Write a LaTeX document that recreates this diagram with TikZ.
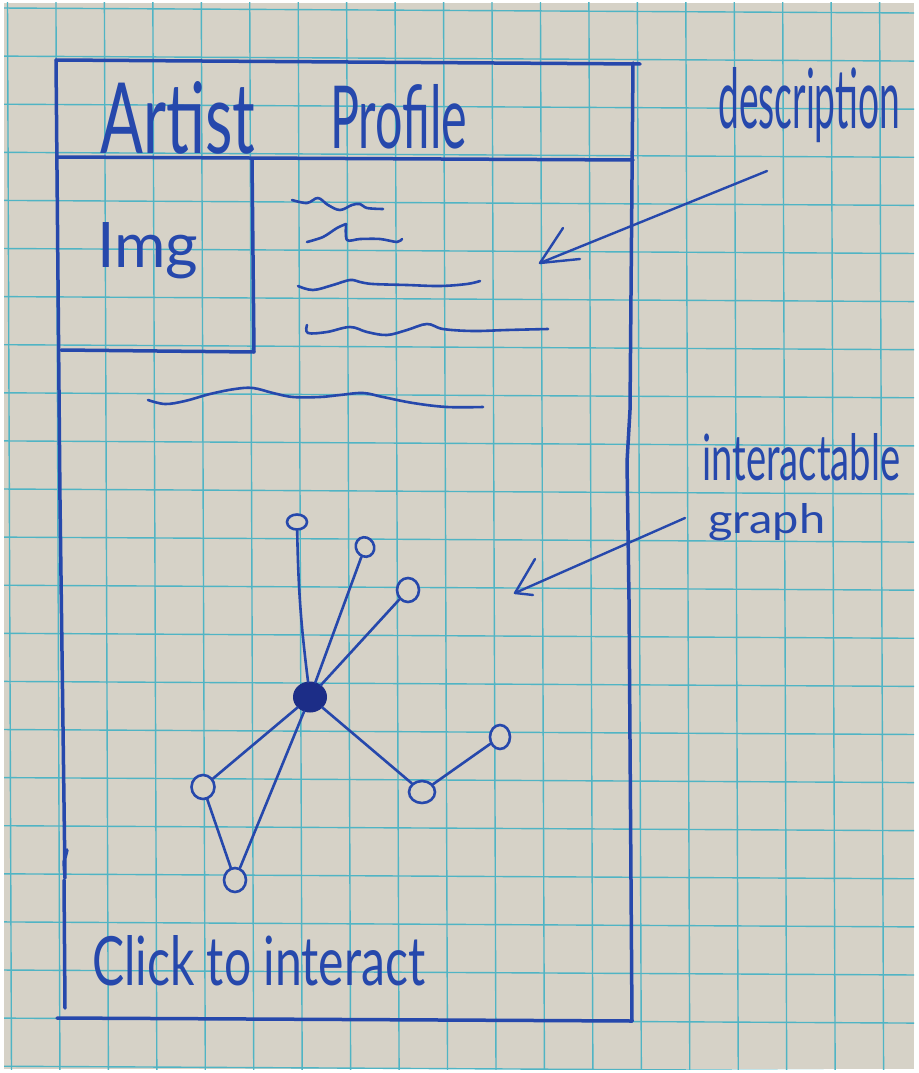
\documentclass[tikz,border=0pt]{standalone}
\usepackage{fontspec}
\usepackage{graphicx}
\newfontfamily\handfont{Lato}
\usetikzlibrary{shapes.geometric}
\definecolor{paper}{RGB}{214,210,199}
\definecolor{gridc}{RGB}{80,180,196}
\definecolor{pen}{RGB}{38,72,172}
\definecolor{hubc}{RGB}{28,45,135}
\begin{document}
\begin{tikzpicture}[x=1pt,y=-1pt,
  frame/.style={draw=pen, line width=3.5pt, line cap=round, line join=round},
  squig/.style={draw=pen, line width=2.6pt, line cap=round, line join=round},
  pointer/.style={draw=pen, line width=2.4pt, line cap=round, line join=round},
  hand/.style={text=pen, font=\handfont, inner sep=0pt, anchor=base west},
  leaf/.style={ellipse, draw=pen, line width=2.6pt, fill=paper, inner sep=0pt},
  hub/.style={ellipse, draw=hubc, fill=hubc, line width=1pt, minimum width=33pt, minimum height=30pt, inner sep=0pt},
  gedge/.style={draw=pen, line width=2.6pt, line cap=round},
  gridline/.style={draw=gridc, line width=1.4pt}]
\useasboundingbox (0,0) rectangle (918,1073);
\fill[white] (0,0) rectangle (918,1073);
\fill[paper] (4,3) rectangle (914,1069);
\begin{scope}
\clip (4,3) rectangle (914,1069);
\foreach \k in {0,...,19} \draw[gridline] (7.5+48.45*\k, 0) -- (11.5+48.45*\k, 1073);
\foreach \k in {0,...,22} \draw[gridline] (0, 8+48.1*\k) -- (918, 13+48.1*\k);
\end{scope}

% page frame
\draw[frame] (56,60) -- (640,64);
\draw[frame] (633,63) -- (630,410) -- (627,462) -- (629,600) -- (632,1021);
\draw[frame] (632,1021) -- (57,1018);
\draw[frame] (56,60) -- (60,500) -- (65,878) -- (64,862) -- (67,850);
\draw[frame] (64,880) -- (65,1008);
% header and image box
\draw[frame] (58,157) -- (633,160);
\draw[frame] (252,159) -- (254,352) -- (61,350);

% texts
\node[hand] (tArtist) at (100,153) {\resizebox{155pt}{72pt}{Artist}};
\node[hand] (tProfile) at (330,148) {\resizebox{137pt}{64pt}{Profile}};
\node[hand] (tImg) at (97,267) {\resizebox{101pt}{45pt}{Img}};
\node[hand] (tDesc) at (718,128) {\resizebox{182pt}{61pt}{description}};
\node[hand] (tInter) at (702,480) {\resizebox{198pt}{47pt}{interactable}};
\node[hand] (tGraph) at (708,533) {\resizebox{117pt}{30pt}{graph}};
\node[hand] (tClick) at (92,985) {\resizebox{333pt}{50pt}{Click to interact}};

% description squiggles
\draw[squig] plot[smooth, tension=0.6] coordinates {(292,200) (307,203) (318,198) (328,205) (340,210) (352,205) (360,204) (367,208) (383,209)};
\draw[squig] plot[smooth, tension=0.5] coordinates {(307,242) (323,237) (337,228) (346,224)};
\draw[squig] plot[smooth, tension=0.5] coordinates {(346,224) (347,240) (360,239) (380,239) (397,242) (402,239)};
\draw[squig] plot[smooth, tension=0.6] coordinates {(298,286) (313,290) (333,285) (350,280) (360,282) (373,284) (407,285) (440,286) (467,284) (480,281)};
\draw[squig] plot[smooth, tension=0.6] coordinates {(307,325) (308,333) (327,332) (350,327) (367,332) (387,335) (407,330) (427,324) (443,329) (473,331) (507,330) (548,329)};
\draw[squig] plot[smooth, tension=0.6] coordinates {(148,400) (165,404) (185,401) (210,394) (235,389) (253,388) (273,393) (293,397) (320,397) (340,395) (363,393) (383,397) (413,403) (447,407) (483,407)};

% description pointer
\coordinate (dTail) at (767,171);
\coordinate (dTip) at (540,263);
\coordinate (dW1) at (563,228);
\coordinate (dW2) at (580,259);
\draw[pointer] (dTail) -- (dTip);
\draw[pointer] (dW1) -- (dTip) -- (dW2);

% graph pointer
\coordinate (gTail) at (685,518);
\coordinate (gTip) at (515,593);
\coordinate (gW1) at (535,559);
\coordinate (gW2) at (533,595);
\draw[pointer] (gTail) -- (gTip);
\draw[pointer] (gW1) -- (gTip) -- (gW2);

% graph
\node[hub] (hub) at (310,697) {};
\node[leaf, minimum width=20pt, minimum height=15pt] (n1) at (297,522) {};
\node[leaf, minimum width=18pt, minimum height=20pt, rotate=30] (n2) at (365,547) {};
\node[leaf, minimum width=22pt, minimum height=24pt] (n3) at (408,590) {};
\node[leaf, minimum width=20pt, minimum height=24pt] (n4) at (500,737) {};
\node[leaf, minimum width=26pt, minimum height=22pt] (n5) at (422,792) {};
\node[leaf, minimum width=23pt, minimum height=24pt] (n6) at (203,787) {};
\node[leaf, minimum width=22pt, minimum height=24pt] (n7) at (235,880) {};
\draw[gedge] (hub) to[bend left=3] (n1);
\draw[gedge] (hub) -- (n2);
\draw[gedge] (hub) -- (n3);
\draw[gedge] (hub) -- (n5);
\draw[gedge] (n5) -- (n4);
\draw[gedge] (hub) -- (n6);
\draw[gedge] (hub) -- (n7);
\draw[gedge] (n6) -- (n7);
\end{tikzpicture}
\end{document}
